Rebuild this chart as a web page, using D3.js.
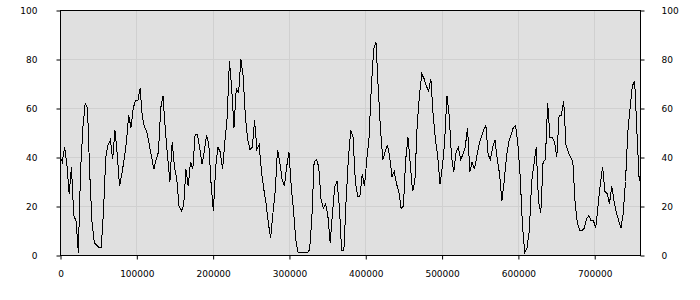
<!DOCTYPE html>
<html>
<head>
<meta charset="utf-8">
<script src="https://cdn.jsdelivr.net/npm/d3@7"></script>
<style>
  body { margin: 0; background: #fff; }
  svg text { font-family: "DejaVu Sans", Verdana, sans-serif; font-size: 9px; fill: #000; }
</style>
</head>
<body>
<svg id="chart" width="700" height="300"></svg>
<script>
// sample spacing along x (values read every 3000 units)
const xStep = 3000;
const xDomain = [0, 760000];
const yDomain = [0, 100];
const xTicks = [0, 100000, 200000, 300000, 400000, 500000, 600000, 700000];
const yTicks = [0, 20, 40, 60, 80, 100];

const values = [
  40, 38, 44, 37, 25, 36, 16, 14, 1, 35,
  52, 62, 60, 33, 13, 5, 4, 3, 3, 18,
  40, 45, 47, 39, 51, 41, 28, 33, 39, 46,
  57, 52, 60, 63, 63, 68, 56, 52, 50, 45,
  40, 35, 39, 42, 60, 65, 51, 40, 30, 46,
  36, 31, 20, 18, 20, 35, 28, 38, 35, 49,
  49, 44, 37, 42, 49, 45, 29, 18, 36, 44,
  42, 35, 46, 56, 79, 68, 52, 68, 66, 80,
  73, 56, 47, 43, 44, 55, 43, 45, 34, 27,
  21, 13, 7, 17, 26, 43, 38, 31, 28, 36,
  42, 28, 18, 6, 1, 1, 1, 1, 1, 2,
  15, 38, 39, 36, 23, 19, 21, 16, 5, 17,
  28, 30, 20, 2, 2, 23, 40, 51, 48, 30,
  24, 24, 33, 28, 39, 48, 69, 84, 87, 68,
  51, 39, 42, 45, 40, 32, 34, 29, 26, 19,
  20, 39, 48, 37, 26, 30, 53, 65, 74, 72,
  69, 67, 72, 57, 47, 40, 29, 36, 46, 65,
  57, 40, 34, 42, 44, 39, 41, 44, 52, 34,
  38, 35, 40, 45, 48, 51, 53, 41, 39, 44,
  47, 39, 33, 22, 30, 40, 46, 49, 52, 53,
  45, 32, 12, 1, 3, 10, 30, 37, 44, 22,
  17, 38, 39, 62, 48, 48, 46, 40, 57, 57,
  63, 45, 42, 40, 38, 21, 13, 10, 10, 11,
  15, 16, 14, 14, 11, 20, 29, 36, 26, 25,
  21, 28, 22, 17.5, 14, 11, 17, 30, 50, 60,
  69, 71, 50, 30
];

const data = values.map((v, i) => ({ x: i * xStep, y: v }));

const margin = { top: 10, right: 60, bottom: 45, left: 60 };
const width = 700 - margin.left - margin.right;
const height = 300 - margin.top - margin.bottom;

const svg = d3.select('#chart');
const g = svg.append('g').attr('transform', `translate(${margin.left},${margin.top})`);

const x = d3.scaleLinear().domain(xDomain).range([0, width]);
const y = d3.scaleLinear().domain(yDomain).range([height, 0]);

g.append('rect')
  .attr('width', width).attr('height', height)
  .attr('fill', '#e0e0e0');

// grid
g.selectAll('.vgrid').data(xTicks.slice(1))
  .enter().append('line')
  .attr('x1', d => Math.round(x(d)) + 0.5).attr('x2', d => Math.round(x(d)) + 0.5)
  .attr('y1', 0).attr('y2', height)
  .attr('stroke', '#d0d0d0');
g.selectAll('.hgrid').data(yTicks.slice(1, -1))
  .enter().append('line')
  .attr('y1', d => Math.round(y(d)) + 0.5).attr('y2', d => Math.round(y(d)) + 0.5)
  .attr('x1', 0).attr('x2', width)
  .attr('stroke', '#d0d0d0');

const line = d3.line().x(d => x(d.x)).y(d => y(d.y));
g.append('path')
  .datum(data)
  .attr('fill', 'none')
  .attr('stroke', '#000')
  .attr('stroke-width', 1)
  .attr('shape-rendering', 'crispEdges')
  .attr('d', line);

// frame
g.append('rect')
  .attr('x', 0.5).attr('y', 0.5)
  .attr('width', width).attr('height', height)
  .attr('fill', 'none').attr('stroke', '#000');

const xAxis = d3.axisBottom(x).tickValues(xTicks).tickSize(4).tickPadding(11).tickFormat(d3.format('d'));
const yLeft = d3.axisLeft(y).tickValues(yTicks).tickSize(4).tickPadding(19);
const yRight = d3.axisRight(y).tickValues(yTicks).tickSize(4).tickPadding(17);

g.append('g').attr('transform', `translate(0.5,${height + 0.5})`).call(xAxis);
g.append('g').attr('transform', 'translate(0.5,0.5)').call(yLeft);
g.append('g').attr('transform', `translate(${width + 0.5},0.5)`).call(yRight);

svg.selectAll('.domain').remove();
svg.selectAll('.tick line').attr('stroke', '#000');
svg.selectAll('.tick text').attr('font-family', null).attr('font-size', null);
</script>
</body>
</html>
